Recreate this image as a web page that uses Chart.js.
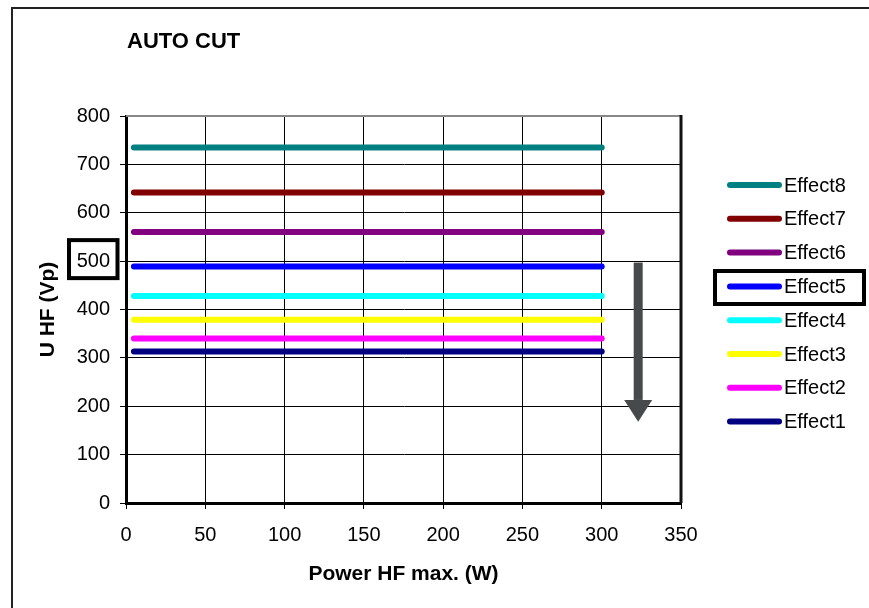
<!DOCTYPE html>
<html>
<head>
<meta charset="utf-8">
<script src="https://cdn.jsdelivr.net/npm/chart.js@4.4.1/dist/chart.umd.min.js"></script>
<style>
  html, body { margin: 0; padding: 0; background: #fff; }
  #wrap { position: relative; width: 869px; height: 608px; }
</style>
</head>
<body>
<div id="wrap"><canvas id="grafico"></canvas></div>
<script>
// AUTO CUT - tensão HF por efeito

const powerW = [5, 300];
const effectNames = ['Effect1', 'Effect2', 'Effect3', 'Effect4', 'Effect5', 'Effect6', 'Effect7', 'Effect8'];
const uhfVp = [313, 340, 379, 428, 489, 560, 642, 735];
const effectColors = ['#000080', '#ff00ff', '#ffff00', '#00ffff', '#0000ff', '#800080', '#800000', '#008080'];
const xTicks = [0, 50, 100, 150, 200, 250, 300, 350];
const yTicks = [0, 100, 200, 300, 400, 500, 600, 700, 800];

const FONT = "'Liberation Sans', Arial, sans-serif";
Chart.defaults.font.family = FONT;
Chart.defaults.color = '#000';

// moldura, título, legenda e destaques
const decoracao = {
    id: 'decoracao',
    beforeDraw(chart) {
        const c = chart.ctx;
        c.save();
        c.fillStyle = '#fff';
        c.fillRect(0, 0, chart.width, chart.height);
        c.strokeStyle = '#222';
        c.lineWidth = 2;
        c.beginPath();
        c.moveTo(12, chart.height + 2);
        c.lineTo(12, 8);
        c.lineTo(chart.width + 2, 8);
        c.stroke();
        c.fillStyle = '#000';
        c.font = 'bold 22px ' + FONT;
        c.textBaseline = 'alphabetic';
        c.fillText('AUTO CUT', 127, 48);
        c.restore();
    },
    afterDraw(chart) {
        const c = chart.ctx;
        const a = chart.chartArea;
        const xs = chart.scales.x;
        const ys = chart.scales.y;
        c.save();
        // borda superior e direita da área
        c.strokeStyle = '#888';
        c.lineWidth = 2;
        c.beginPath();
        c.moveTo(a.left, a.top);
        c.lineTo(a.right, a.top);
        c.stroke();
        c.strokeStyle = '#111';
        c.lineWidth = 3;
        c.beginPath();
        c.moveTo(a.right, a.top - 1);
        c.lineTo(a.right, a.bottom);
        c.stroke();

        // legenda
        const sets = chart.data.datasets.slice().reverse();
        c.font = '20px ' + FONT;
        c.textBaseline = 'middle';
        c.lineCap = 'round';
        sets.forEach((ds, i) => {
            const y = 185 + i * 33.8;
            c.strokeStyle = ds.borderColor;
            c.lineWidth = 6;
            c.beginPath();
            c.moveTo(730, y);
            c.lineTo(779, y);
            c.stroke();
            c.fillStyle = '#000';
            c.fillText(ds.label, 784, y + 1);
        });

        // destaque Effect5 na legenda
        c.strokeStyle = '#000';
        c.lineWidth = 4;
        c.strokeRect(715, 271, 149, 33);

        // destaque do rótulo 500
        const y500 = ys.getPixelForValue(500) - 2;
        c.strokeRect(a.left - 57, y500 - 19, 48.5, 38);

        // seta
        const ax = xs.getPixelForValue(323);
        const yTop = ys.getPixelForValue(497);
        const yHead = ys.getPixelForValue(213);
        const yTip = ys.getPixelForValue(168);
        c.fillStyle = '#464a4a';
        c.fillRect(ax - 4.5, yTop, 9, yHead - yTop);
        c.beginPath();
        c.moveTo(ax - 14, yHead);
        c.lineTo(ax + 14, yHead);
        c.lineTo(ax, yTip);
        c.closePath();
        c.fill();
        c.restore();
    }
};

const datasets = effectNames.map((nome, i) => ({
    label: nome,
    data: powerW.map(x => ({ x: x, y: uhfVp[i] })),
    borderColor: effectColors[i],
    backgroundColor: effectColors[i],
    borderWidth: 6,
    borderCapStyle: 'round',
    pointRadius: 0,
    fill: false,
    tension: 0
}));

new Chart(document.getElementById('grafico').getContext('2d'), {
    type: 'line',
    data: { datasets: datasets },
    options: {
        responsive: true,
        maintainAspectRatio: false,
        animation: false,
        layout: { padding: { left: 0, top: 116, right: 188, bottom: 0 } },
        plugins: {
            legend: { display: false },
            title: { display: false },
            tooltip: { enabled: false }
        },
        scales: {
            x: {
                type: 'linear',
                min: 0,
                max: 350,
                afterBuildTicks: s => { s.ticks = xTicks.map(v => ({ value: v })); },
                afterFit: s => { s.height = 105; },
                grid: { color: '#000', lineWidth: 1, tickLength: 6, tickColor: '#000' },
                border: { display: true, color: '#000', width: 3 },
                ticks: { font: { size: 20 }, padding: 14, maxRotation: 0 },
                title: {
                    display: true,
                    text: 'Power HF max. (W)',
                    font: { size: 21, weight: 'bold' },
                    padding: { top: 0, bottom: 21 }
                }
            },
            y: {
                type: 'linear',
                min: 0,
                max: 800,
                afterBuildTicks: s => { s.ticks = yTicks.map(v => ({ value: v })); },
                afterFit: s => { s.width = 126; },
                grid: { color: '#000', lineWidth: 1, tickLength: 6, tickColor: '#000' },
                border: { display: true, color: '#000', width: 3 },
                ticks: { font: { size: 20 }, padding: 10 },
                title: {
                    display: true,
                    text: 'U HF (Vp)',
                    font: { size: 21, weight: 'bold' },
                    padding: { top: 36, bottom: 0 }
                }
            }
        }
    },
    plugins: [decoracao]
});
</script>
</body>
</html>
